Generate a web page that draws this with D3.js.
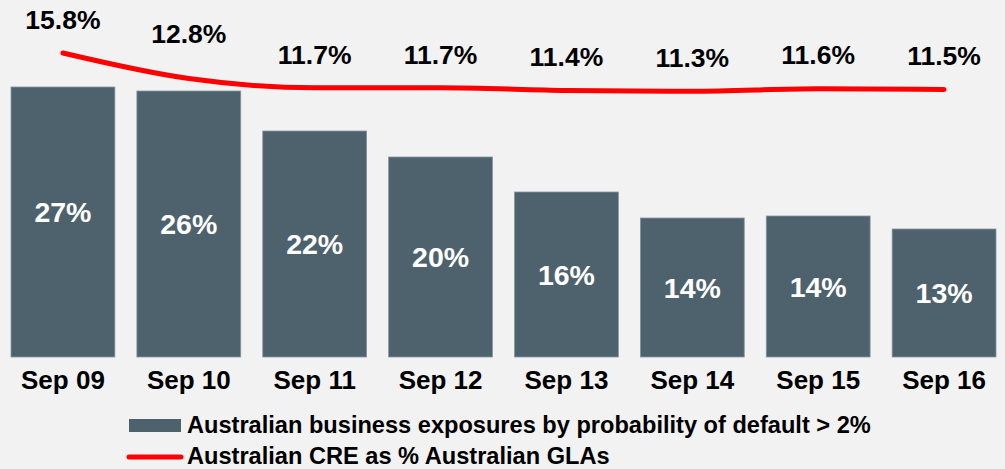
<!DOCTYPE html>
<html>
<head>
<meta charset="utf-8">
<script src="https://cdn.jsdelivr.net/npm/d3@7/dist/d3.min.js"></script>
<style>
  html, body { margin: 0; padding: 0; background: #f2f2f2; }
  svg { display: block; }
  text { font-family: "Liberation Sans", Arial, sans-serif; font-weight: bold; }
</style>
</head>
<body>
<div id="chart"></div>
<script>
// ---- data ----
const categories = ["Sep 09", "Sep 10", "Sep 11", "Sep 12", "Sep 13", "Sep 14", "Sep 15", "Sep 16"];
const exposureValues = [27.0, 26.6, 22.6, 20.0, 16.5, 13.9, 14.1, 12.8];
const exposureLabels = ["27%", "26%", "22%", "20%", "16%", "14%", "14%", "13%"];
const creValues = [15.8, 12.8, 11.7, 11.7, 11.4, 11.3, 11.6, 11.5];
const creLabels = ["15.8%", "12.8%", "11.7%", "11.7%", "11.4%", "11.3%", "11.6%", "11.5%"];
const legendLabels = ["Australian business exposures by probability of default > 2%",
                      "Australian CRE as % Australian GLAs"];

// ---- layout ----
const W = 1005, H = 469;
const barColor = "#4e626d", lineColor = "#ff0000";
// label placement tweaks (layout only)
const creLabelLift = [24, 36, 24, 24, 24, 24, 25, 25];
const barLabelShift = [0, 10, 10, 10, 10, 10, 10, 10];

const svg = d3.select("#chart").append("svg").attr("width", W).attr("height", H);
svg.append("rect").attr("width", W).attr("height", H).attr("fill", "#f2f2f2");

const x = d3.scaleBand().domain(categories).range([11, 996]).paddingInner(0.175).paddingOuter(0);
const y = d3.scaleLinear().domain([0, 27]).range([357, 87]);
const y2 = d3.scaleLinear().domain([0, 16]).range([187.3, 51.3]);

// bars
svg.append("g").selectAll("rect").data(categories).join("rect")
  .attr("x", d => x(d))
  .attr("y", (d, i) => y(exposureValues[i]))
  .attr("width", x.bandwidth())
  .attr("height", (d, i) => y(0) - y(exposureValues[i]))
  .attr("fill", barColor)
  .attr("stroke", "#8596a0")
  .attr("stroke-width", 0.8);

// bar labels
svg.append("g").selectAll("text").data(categories).join("text")
  .attr("x", d => x(d) + x.bandwidth() / 2)
  .attr("y", (d, i) => (y(exposureValues[i]) + y(0)) / 2 + barLabelShift[i])
  .attr("text-anchor", "middle")
  .attr("fill", "#ffffff")
  .attr("font-size", 28.5)
  .text((d, i) => exposureLabels[i]);

// x axis labels
const xAxis = d3.axisBottom(x).tickSize(0).tickPadding(0);
const gx = svg.append("g").attr("transform", "translate(0,357)").call(xAxis);
gx.select(".domain").remove();
gx.selectAll("text")
  .attr("font-size", 26)
  .attr("font-family", "'Liberation Sans', Arial, sans-serif")
  .attr("font-weight", "bold")
  .attr("fill", "#000")
  .attr("dy", null)
  .attr("y", 32);

// line
const line = d3.line()
  .x((d, i) => x(categories[i]) + x.bandwidth() / 2)
  .y(d => y2(d))
  .curve(d3.curveMonotoneX);
svg.append("path").datum(creValues)
  .attr("d", line)
  .attr("fill", "none")
  .attr("stroke", lineColor)
  .attr("stroke-width", 5)
  .attr("stroke-linecap", "round");

// line labels
svg.append("g").selectAll("text").data(categories).join("text")
  .attr("x", d => x(d) + x.bandwidth() / 2)
  .attr("y", (d, i) => y2(creValues[i]) - creLabelLift[i])
  .attr("text-anchor", "middle")
  .attr("fill", "#000")
  .attr("font-size", 26.5)
  .text((d, i) => creLabels[i]);

// legend
const lg = svg.append("g");
lg.append("rect").attr("x", 129).attr("y", 419).attr("width", 52).attr("height", 13).attr("fill", barColor);
lg.append("text").attr("x", 187).attr("y", 433).attr("font-size", 23.6).attr("fill", "#000").text(legendLabels[0]);
lg.append("line").attr("x1", 129).attr("x2", 181).attr("y1", 457).attr("y2", 457)
  .attr("stroke", lineColor).attr("stroke-width", 5).attr("stroke-linecap", "round");
lg.append("text").attr("x", 187).attr("y", 463.5).attr("font-size", 23.6).attr("fill", "#000").text(legendLabels[1]);
</script>
</body>
</html>
